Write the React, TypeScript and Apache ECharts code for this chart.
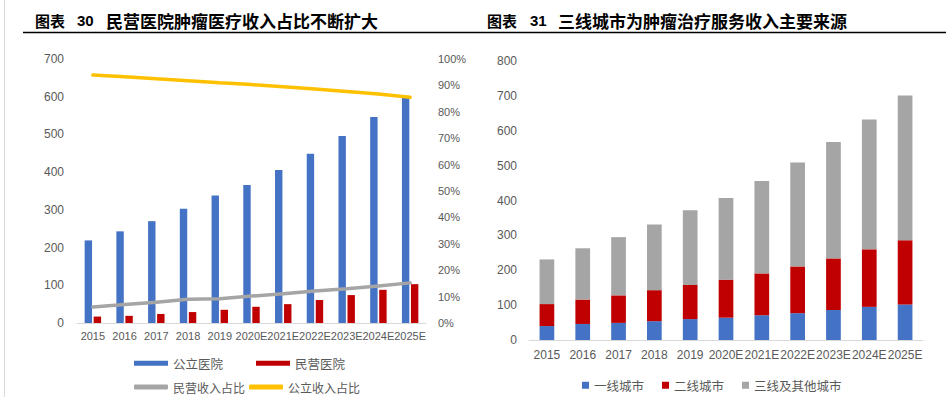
import React, { useEffect, useRef } from "react";
import * as echarts from "echarts";

const years = ["2015", "2016", "2017", "2018", "2019", "2020E", "2021E", "2022E", "2023E", "2024E", "2025E"];

// Left chart (图表30)
const publicRevenue = [219, 243, 270, 303, 338, 366, 406, 449, 496, 546, 598];
const privateRevenue = [17, 19, 24, 29, 35, 43, 50, 61, 74, 88, 103];
const privateShare = [6.1, 7.0, 7.9, 9.0, 9.2, 10.2, 11.1, 12.1, 13.0, 14.0, 15.2];
const publicShare = [93.9, 93.3, 92.5, 91.8, 91.0, 90.3, 89.5, 88.6, 87.7, 86.7, 85.5];

// Right chart (图表31)
const tier1 = [40, 46, 49, 54, 60, 64, 71, 77, 86, 95, 102];
const tier2 = [63, 70, 79, 89, 98, 109, 120, 134, 148, 165, 184];
const tier3 = [128, 147, 167, 188, 214, 234, 265, 298, 334, 372, 415];

const leftNames = ["公立医院", "民营医院", "民营收入占比", "公立收入占比"];
const rightNames = ["一线城市", "二线城市", "三线及其他城市"];

const BLUE = "#4472C4";
const RED = "#C00000";
const GRAY = "#A5A5A5";
const YELLOW = "#FFC000";
const TXT = "#595959";
const AXIS = "#D9D9D9";
const NUMFONT = "'Liberation Sans', Arial, sans-serif";
const CJK = "'Noto Sans CJK SC', sans-serif";

export default function App() {
  const ref = useRef<HTMLDivElement>(null);
  useEffect(() => {
    if (!ref.current) return;
    const chart = echarts.init(ref.current, null, { renderer: "svg" });
    const titleStyle = { fill: "#000", fontFamily: CJK, fontWeight: "bold" };
    const legendText = { color: TXT, fontSize: 12.5, fontFamily: CJK, lineHeight: 12 };
    chart.setOption({
      animation: false,
      backgroundColor: "#fff",
      graphic: [
        { type: "line", shape: { x1: 4.5, y1: 0, x2: 4.5, y2: 397 }, style: { stroke: AXIS, lineWidth: 1 } },
        { type: "line", shape: { x1: 23, y1: 32.5, x2: 946, y2: 32.5 }, style: { stroke: "#000", lineWidth: 1.5 } },
        { type: "text", x: 35, y: 20, style: { ...titleStyle, text: "图表", fontSize: 15, verticalAlign: "middle" } },
        { type: "text", x: 77, y: 20, style: { ...titleStyle, text: "30", fontSize: 15, verticalAlign: "middle", fontFamily: NUMFONT } },
        { type: "text", x: 106, y: 20, style: { ...titleStyle, text: "民营医院肿瘤医疗收入占比不断扩大", fontSize: 17, verticalAlign: "middle" } },
        { type: "text", x: 487, y: 20, style: { ...titleStyle, text: "图表", fontSize: 15, verticalAlign: "middle" } },
        { type: "text", x: 530, y: 20, style: { ...titleStyle, text: "31", fontSize: 15, verticalAlign: "middle", fontFamily: NUMFONT } },
        { type: "text", x: 558, y: 20, style: { ...titleStyle, text: "三线城市为肿瘤治疗服务收入主要来源", fontSize: 17, verticalAlign: "middle" } },
      ],
      legend: [
        {
          data: [leftNames[0], leftNames[1]], padding: 0,
          left: 134, top: 357, itemWidth: 34, itemHeight: 5, itemGap: 33, icon: "rect",
          textStyle: legendText,
        },
        {
          data: [leftNames[2], leftNames[3]], padding: 0,
          left: 134, top: 381, itemWidth: 34, itemHeight: 5, itemGap: 4, icon: "roundRect",
          textStyle: { ...legendText, fontSize: 12 },
        },
        {
          data: rightNames, padding: 0,
          left: 582, top: 379, itemWidth: 7, itemHeight: 7, itemGap: 18, icon: "rect",
          textStyle: legendText,
        },
      ],
      grid: [
        { left: 77, right: 520, top: 59, bottom: 74 },
        { left: 529, right: 23, top: 61, bottom: 57 },
      ],
      xAxis: [
        {
          type: "category", gridIndex: 0, data: years,
          axisLine: { lineStyle: { color: AXIS } }, axisTick: { show: false },
          axisLabel: { color: TXT, fontSize: 11, fontFamily: NUMFONT, margin: 7, interval: 0 },
        },
        {
          type: "category", gridIndex: 1, data: years,
          axisLine: { lineStyle: { color: AXIS } }, axisTick: { show: false },
          axisLabel: { color: TXT, fontSize: 12, fontFamily: NUMFONT, margin: 9, interval: 0 },
        },
      ],
      yAxis: [
        {
          type: "value", gridIndex: 0, min: 0, max: 700, interval: 100,
          splitLine: { show: false }, axisLine: { show: false }, axisTick: { show: false },
          axisLabel: { color: TXT, fontSize: 12, fontFamily: NUMFONT, margin: 13 },
        },
        {
          type: "value", gridIndex: 0, min: 0, max: 100, interval: 10, position: "right",
          splitLine: { show: false }, axisLine: { show: false }, axisTick: { show: false },
          axisLabel: { color: TXT, fontSize: 11, fontFamily: NUMFONT, margin: 12, formatter: "{value}%" },
        },
        {
          type: "value", gridIndex: 1, min: 0, max: 800, interval: 100,
          splitLine: { show: false }, axisLine: { show: false }, axisTick: { show: false },
          axisLabel: { color: TXT, fontSize: 12, fontFamily: NUMFONT, margin: 12 },
        },
      ],
      series: [
        { name: leftNames[0], type: "bar", xAxisIndex: 0, yAxisIndex: 0, data: publicRevenue, barWidth: 7.4, barGap: "22%", itemStyle: { color: BLUE } },
        { name: leftNames[1], type: "bar", xAxisIndex: 0, yAxisIndex: 0, data: privateRevenue, barWidth: 7.4, barGap: "22%", itemStyle: { color: RED } },
        { name: leftNames[2], type: "line", xAxisIndex: 0, yAxisIndex: 1, data: privateShare, symbol: "none", lineStyle: { color: GRAY, width: 3.5, cap: "round" }, itemStyle: { color: GRAY } },
        { name: leftNames[3], type: "line", xAxisIndex: 0, yAxisIndex: 1, data: publicShare, symbol: "none", lineStyle: { color: YELLOW, width: 3.5, cap: "round" }, itemStyle: { color: YELLOW } },
        { name: rightNames[0], type: "bar", xAxisIndex: 1, yAxisIndex: 2, stack: "city", data: tier1, barWidth: 14.7, itemStyle: { color: BLUE } },
        { name: rightNames[1], type: "bar", xAxisIndex: 1, yAxisIndex: 2, stack: "city", data: tier2, barWidth: 14.7, itemStyle: { color: RED } },
        { name: rightNames[2], type: "bar", xAxisIndex: 1, yAxisIndex: 2, stack: "city", data: tier3, barWidth: 14.7, itemStyle: { color: GRAY } },
      ],
    });
    return () => chart.dispose();
  }, []);
  return <div ref={ref} style={{ position: "absolute", left: 0, top: 0, width: 946, height: 397 }} />;
}
